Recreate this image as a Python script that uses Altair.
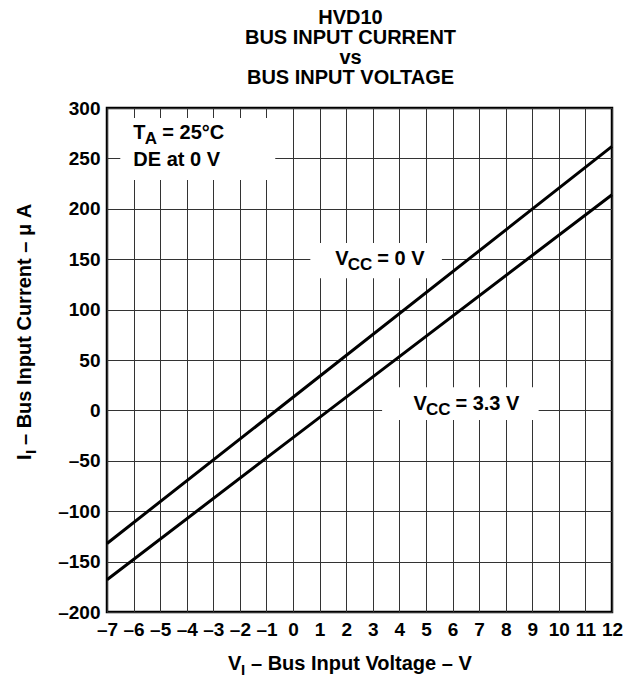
import altair as alt
import pandas as pd

# ---- data ----
vi_0v = [-7, 0, 12]            # V_I (V) for V_CC = 0 V
ii_0v = [-132, 13, 262]        # I_I (uA)
vi_33v = [-7, 0, 12]           # V_I (V) for V_CC = 3.3 V
ii_33v = [-168, -27, 214]      # I_I (uA)

x_ticks = list(range(-7, 13))
y_ticks = list(range(-200, 301, 50))

title_lines = ["HVD10", "BUS INPUT CURRENT", "vs", "BUS INPUT VOLTAGE"]

# label boxes (data coords) : x1, x2, y1, y2
box_x1 = [-6.5, 0.65, 3.35]
box_x2 = [-0.67, 5.6, 9.24]
box_y1 = [228.6, 131, -9.5]
box_y2 = [290, 166, 23]

FONT = "Liberation Sans"
W, H = 505, 504

lines_df = pd.DataFrame({
    "v": vi_0v + vi_33v,
    "i": ii_0v + ii_33v,
    "s": ["0 V"] * len(vi_0v) + ["3.3 V"] * len(vi_33v),
})
boxes_df = pd.DataFrame({"x1": box_x1, "x2": box_x2, "y1": box_y1, "y2": box_y2})

xs = alt.Scale(domain=[-7, 12], nice=False, zero=False)
ys = alt.Scale(domain=[-200, 300], nice=False, zero=False)

lab = "datum.value < 0 ? '\u2013' + abs(datum.value) : '' + datum.value"

x_axis = alt.Axis(values=x_ticks, title=None, labelExpr=lab, labelFlush=False,
                  labelPadding=8, labelOverlap=False)
y_axis = alt.Axis(values=y_ticks, title=None, labelExpr=lab, labelFlush=False,
                  labelPadding=7, labelOverlap=False)

boxes = alt.Chart(boxes_df).mark_rect(color="white").encode(
    x=alt.X("x1:Q", scale=xs, axis=x_axis),
    x2="x2:Q",
    y=alt.Y("y1:Q", scale=ys, axis=y_axis),
    y2="y2:Q",
)

lines = alt.Chart(lines_df).mark_line(color="black", strokeWidth=3).encode(
    x=alt.X("v:Q", scale=xs, axis=x_axis), y=alt.Y("i:Q", scale=ys, axis=y_axis), detail="s:N"
)


def txt(s, x, y, size=20, dx=0, dy=0, angle=0, pixel=False, align="left"):
    df = pd.DataFrame({"t": [s], "x": [x], "y": [y]})
    m = alt.Chart(df).mark_text(font=FONT, fontWeight="bold", fontSize=size, color="black",
                                align=align, baseline="alphabetic", dx=dx, dy=dy, angle=angle)
    if pixel:
        return m.encode(x=alt.value(x), y=alt.value(y), text="t:N")
    return m.encode(x=alt.X("x:Q", scale=xs, axis=x_axis),
                    y=alt.Y("y:Q", scale=ys, axis=y_axis), text="t:N")


texts = [
    # T_A = 25°C / DE at 0 V
    txt("T", -6.01, 269.2),
    txt("A", -6.01, 269.2, size=17, dx=11.5, dy=5),
    txt("= 25°C", -6.01, 269.2, dx=29),
    txt("DE at 0 V", -6.01, 242.8),
    # V_CC = 0 V
    txt("V", 1.59, 144.4),
    txt("CC", 1.59, 144.4, size=17, dx=12.5, dy=5),
    txt("= 0 V", 1.59, 144.4, dx=42),
    # V_CC = 3.3 V
    txt("V", 4.53, 0.3),
    txt("CC", 4.53, 0.3, size=17, dx=12.5, dy=5),
    txt("= 3.3 V", 4.53, 0.3, dx=42),
    # x axis title
    txt("V", 121, 562, pixel=True),
    txt("I", 121, 562, size=15, pixel=True, dx=13, dy=5),
    txt("\u2013 Bus Input Voltage \u2013 V", 121, 562, pixel=True, dx=23),
    # y axis title (rotated)
    txt("I", -76, 352, pixel=True, angle=270),
    txt("I", -76, 352, size=15, pixel=True, angle=270, dx=6, dy=5),
    txt("\u2013 Bus Input Current \u2013 \u03bc A", -76, 352, pixel=True, angle=270, dx=15),
]

chart = alt.layer(boxes, lines, *texts).properties(
    width=W, height=H,
    title=alt.TitleParams(title_lines, font=FONT, fontSize=20, fontWeight="bold", color="black",
                          anchor="middle", lineHeight=20, offset=11, dx=-9),
    autosize=alt.AutoSizeParams(type="none"),
    padding={"left": 99, "top": 100, "right": 21, "bottom": 69},
).configure_view(stroke="black", strokeWidth=2.5).configure_axis(
    labelFont=FONT, labelFontWeight="bold", labelFontSize=19, labelColor="black",
    ticks=False, domain=False, grid=True, gridColor="#333333", gridWidth=1, gridOpacity=1,
)

chart.save("out.html", embed_options={"renderer": "svg", "actions": False})
